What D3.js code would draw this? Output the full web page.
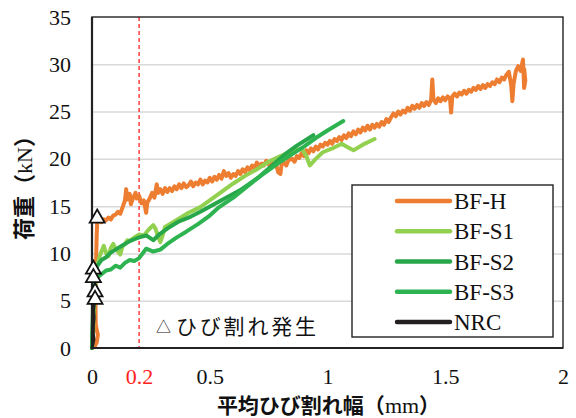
<!DOCTYPE html>
<html><head><meta charset="utf-8">
<script src="https://cdn.jsdelivr.net/npm/d3@7"></script>
<style>
html,body{margin:0;padding:0;background:#fff;}
svg{display:block;}
</style></head>
<body>
<svg id="c" width="576" height="418"></svg>
<script>
// ---- data (x: 平均ひび割れ幅 mm, y: 荷重 kN) ----
const seriesNames = ["BF-H","BF-S1","BF-S2","BF-S3","NRC"];
const seriesColors = ["#ED7D31","#92D050","#27A74A","#2DB350","#231F20"];
const xTicks = [0, 0.5, 1, 1.5, 2];
const xTickLabels = ["0","0.5","1","1.5","2"];
const yTicks = [0,5,10,15,20,25,30,35];
const markX = 0.2;
const crackPoints = [[0.022,13.9],[0.006,8.5],[0.006,7.6],[0.013,6.1],[0.013,5.3]];

const bfH = [[0,0],[0.012,0.2],[0.02,0.6],[0.025,1.4],[0.02,1.9],[0.016,2.5],[0.015,4],[0.016,6],[0.017,8],[0.018,10],[0.02,12],[0.022,13.2],[0.03,13.6],[0.04,13.3],[0.05,13.6],[0.06,13.5],[0.07,13.8],[0.08,13.6],[0.09,14.0],[0.1,14.1],[0.11,14.4],[0.12,14.2],[0.13,14.9],[0.14,15.6],[0.145,16.8],[0.15,15.7],[0.16,16.3],[0.165,15.2],[0.175,15.9],[0.185,16.4],[0.19,15.8],[0.2,16.1],[0.21,15.3],[0.22,15.6],[0.23,14.3],[0.235,15.4],[0.245,15.8],[0.255,16.4],[0.265,15.9],[0.275,17.3],[0.28,16.4],[0.29,16.8],[0.3,16.3],[0.31,16.9],[0.32,16.5],[0.33,16.9],[0.34,16.6],[0.35,17.1],[0.36,16.8],[0.37,17.3],[0.38,16.9],[0.39,17.4],[0.4,17.0],[0.41,17.2],[0.42,17.6],[0.43,17.1],[0.44,17.5],[0.45,17.3],[0.46,17.8],[0.47,17.3],[0.48,17.7],[0.49,17.5],[0.5,18.0],[0.51,17.6],[0.52,18.1],[0.53,17.8],[0.54,18.3],[0.55,17.9],[0.56,18.7],[0.57,18.2],[0.58,18.5],[0.59,18.0],[0.6,18.4],[0.61,18.2],[0.62,18.7],[0.63,18.4],[0.64,18.9],[0.65,18.6],[0.66,19.1],[0.67,18.8],[0.68,19.3],[0.69,19.0],[0.7,19.6],[0.71,19.2],[0.72,19.5],[0.73,19.3],[0.74,19.8],[0.75,19.4],[0.76,19.8],[0.77,19.3],[0.78,19.6],[0.79,18.6],[0.8,18.4],[0.805,19.4],[0.815,19.6],[0.825,19.3],[0.835,19.9],[0.85,20.0],[0.86,19.7],[0.87,20.3],[0.88,20.1],[0.89,20.6],[0.9,20.3],[0.91,20.9],[0.92,20.6],[0.93,21.1],[0.94,20.8],[0.95,21.3],[0.96,21.0],[0.97,21.5],[0.98,21.3],[0.99,21.7],[1.0,21.5],[1.01,21.9],[1.02,21.6],[1.03,22.1],[1.04,21.9],[1.05,22.3],[1.06,22.0],[1.07,22.5],[1.08,22.2],[1.09,22.7],[1.1,22.4],[1.11,22.9],[1.12,22.6],[1.13,23.1],[1.14,22.8],[1.15,23.3],[1.16,23.0],[1.17,23.5],[1.18,23.1],[1.19,23.6],[1.2,23.3],[1.21,23.7],[1.22,23.4],[1.23,23.9],[1.24,23.6],[1.25,24.2],[1.26,23.9],[1.27,24.4],[1.28,24.8],[1.29,24.5],[1.3,25.0],[1.31,24.7],[1.32,25.1],[1.33,24.9],[1.34,25.4],[1.35,25.1],[1.36,25.6],[1.37,25.3],[1.38,25.7],[1.39,25.4],[1.4,25.9],[1.41,25.6],[1.42,26.0],[1.43,25.7],[1.44,26.2],[1.445,28.4],[1.45,26.3],[1.46,25.9],[1.47,26.4],[1.48,26.1],[1.49,26.5],[1.5,26.2],[1.51,26.6],[1.52,26.4],[1.525,24.9],[1.53,26.6],[1.54,26.9],[1.55,26.6],[1.56,27.0],[1.57,26.8],[1.58,27.2],[1.59,26.9],[1.6,27.3],[1.61,27.1],[1.62,27.5],[1.63,27.3],[1.64,27.7],[1.65,27.4],[1.66,27.8],[1.67,27.5],[1.68,27.9],[1.69,27.7],[1.7,28.1],[1.71,27.9],[1.72,28.4],[1.73,28.1],[1.74,28.6],[1.75,28.4],[1.76,28.9],[1.77,29.2],[1.775,28.5],[1.78,27.8],[1.785,26.1],[1.79,27.9],[1.8,29.3],[1.81,29.8],[1.82,29.3],[1.83,30.5],[1.835,27.5],[1.84,28.3],[1.835,29.5]];

const bfS1 = [[0,0],[0.005,2],[0.01,5],[0.015,7],[0.02,8.5],[0.03,9.5],[0.04,10.2],[0.05,10.8],[0.06,10.0],[0.07,9.7],[0.08,10.6],[0.09,11.0],[0.1,10.5],[0.11,10.2],[0.12,9.9],[0.13,10.8],[0.14,11.0],[0.15,11.4],[0.16,11.3],[0.18,11.7],[0.2,12.0],[0.22,11.9],[0.24,12.5],[0.26,13.0],[0.27,12.6],[0.28,11.8],[0.29,11.2],[0.3,11.9],[0.31,12.8],[0.33,13.1],[0.37,13.7],[0.41,14.3],[0.46,14.9],[0.5,15.6],[0.55,16.5],[0.6,17.4],[0.65,18.2],[0.7,18.9],[0.75,19.7],[0.8,20.3],[0.85,20.8],[0.89,21.1],[0.91,20.3],[0.925,19.3],[0.95,20.0],[0.98,20.7],[1.02,21.1],[1.06,21.6],[1.08,21.3],[1.11,20.9],[1.15,21.5],[1.2,22.1]];

const bfS2 = [[0,0],[0.003,3],[0.005,6],[0.008,7.5],[0.02,8.6],[0.04,9.3],[0.06,9.6],[0.08,10.1],[0.1,10.4],[0.12,10.7],[0.14,11.0],[0.16,11.3],[0.18,11.5],[0.2,11.7],[0.23,11.9],[0.26,11.4],[0.29,12.1],[0.33,12.8],[0.37,13.4],[0.42,13.9],[0.46,14.4],[0.54,15.5],[0.63,16.7],[0.71,18.1],[0.77,19.4],[0.82,20.5],[0.87,21.4],[0.94,22.5]];

const bfS3 = [[0,0],[0.004,3],[0.006,5.5],[0.01,7],[0.02,7.4],[0.04,7.8],[0.06,8.2],[0.08,8.3],[0.1,8.7],[0.12,8.5],[0.14,9.0],[0.16,9.3],[0.18,9.2],[0.2,9.5],[0.23,10.5],[0.26,10.2],[0.29,10.4],[0.32,11.0],[0.36,11.7],[0.4,12.3],[0.45,13.1],[0.5,14.0],[0.54,14.9],[0.6,15.9],[0.65,16.9],[0.71,18.1],[0.75,18.8],[0.8,19.7],[0.85,20.5],[0.9,21.3],[0.95,22.2],[1.0,23.0],[1.067,24.0]];

const nrc = [[0,0],[0.004,0.4],[0.008,0.9],[0.005,1.6],[0.006,2.4],[0.009,3.2],[0.007,4.0],[0.01,4.8],[0.012,5.6]];

const seriesData = [bfH, bfS1, bfS2, bfS3, nrc];
const seriesWidths = [4, 4, 4, 4, 3];

// ---- drawing ----
const svg = d3.select("#c");
const L = 92, R = 563, T = 17, B = 348;
const x = d3.scaleLinear().domain([0,2]).range([L,R]);
const y = d3.scaleLinear().domain([0,35]).range([B,T]);
const serif = "'Liberation Serif','Times New Roman',serif";
const jp = "'Noto Sans CJK JP','Noto Sans',sans-serif";

// gridlines
svg.append("g").attr("transform",`translate(${L},0)`)
  .call(d3.axisLeft(y).tickValues(yTicks.slice(1,-1)).tickSize(-(R-L)).tickFormat(""))
  .call(g=>g.select(".domain").remove())
  .call(g=>g.selectAll("line").attr("stroke","#D9D9D9").attr("stroke-width",1.5));

// red dashed line at 0.2
svg.append("line").attr("x1",x(markX)).attr("x2",x(markX)).attr("y1",T).attr("y2",B)
  .attr("stroke","#FF2020").attr("stroke-width",1.3).attr("stroke-dasharray","4,3");

// series
const line = d3.line().x(d=>x(d[0])).y(d=>y(d[1]));
seriesData.forEach((s,i)=>{
  svg.append("path").datum(s).attr("d",line).attr("fill","none")
    .attr("stroke",seriesColors[i]).attr("stroke-width",seriesWidths[i])
    .attr("stroke-linejoin","round").attr("stroke-linecap","round");
});

// frame
svg.append("rect").attr("x",L).attr("y",T).attr("width",R-L).attr("height",B-T)
  .attr("fill","none").attr("stroke","#222").attr("stroke-width",1.4);
svg.append("line").attr("x1",L).attr("x2",L).attr("y1",T).attr("y2",B+1).attr("stroke","#222").attr("stroke-width",2.2);
svg.append("line").attr("x1",L-1).attr("x2",R).attr("y1",B).attr("y2",B).attr("stroke","#222").attr("stroke-width",2.2);

// crack markers
const tri = "M0,-7 L7.5,6 L-7.5,6 Z";
svg.append("g").selectAll("path").data(crackPoints).join("path")
  .attr("d",tri).attr("transform",d=>`translate(${x(d[0])},${y(d[1])})`)
  .attr("fill","#fff").attr("stroke","#111").attr("stroke-width",1.8).attr("stroke-linejoin","miter");

// y axis labels
svg.append("g").attr("transform",`translate(${L},0)`)
  .call(d3.axisLeft(y).tickValues(yTicks).tickSize(0).tickPadding(21))
  .call(g=>g.select(".domain").remove())
  .call(g=>g.selectAll("text").attr("font-family",serif).attr("font-size",22).attr("fill","#111"));

// x axis labels
svg.append("g").attr("transform",`translate(0,${B})`)
  .call(d3.axisBottom(x).tickValues(xTicks).tickSize(0).tickPadding(20).tickFormat((d,i)=>xTickLabels[i]))
  .call(g=>g.select(".domain").remove())
  .call(g=>g.selectAll("text").attr("font-family",serif).attr("font-size",22).attr("fill","#111"));
svg.append("g").attr("transform",`translate(0,${B})`)
  .call(d3.axisBottom(x).tickValues([markX]).tickSize(0).tickPadding(20).tickFormat(d=>String(d)))
  .call(g=>g.select(".domain").remove())
  .call(g=>g.selectAll("text").attr("font-family",serif).attr("font-size",22).attr("fill","#FF2020"));

// axis titles
const xt = svg.append("text").attr("x",(L+R)/2+1).attr("y",413).attr("text-anchor","middle")
  .attr("font-family",jp).attr("font-size",21).attr("font-weight","bold").attr("fill","#111");
xt.append("tspan").text("平均ひび割れ幅（");
xt.append("tspan").attr("font-family",serif).attr("font-weight","normal").attr("font-size",22).text("mm");
xt.append("tspan").text("）");

const yt = svg.append("text").attr("transform",`translate(32,${(T+B)/2}) rotate(-90)`).attr("text-anchor","middle")
  .attr("font-family",jp).attr("font-size",22).attr("font-weight","bold").attr("fill","#111");
yt.append("tspan").text("荷重（");
yt.append("tspan").attr("font-family",serif).attr("font-weight","normal").text("kN");
yt.append("tspan").text("）");

// annotation
svg.append("text").attr("x",156).attr("y",332).attr("font-family",jp).attr("font-size",15).attr("fill","#111").text("△");
svg.append("text").attr("x",176).attr("y",334).attr("font-family",jp).attr("font-size",21)
  .attr("textLength",140).attr("lengthAdjust","spacing").attr("fill","#111").text("ひび割れ発生");

// legend
const lg = svg.append("g");
lg.append("rect").attr("x",352).attr("y",185).attr("width",201).attr("height",152)
  .attr("fill","#fff").attr("stroke","#222").attr("stroke-width",1.4);
const rowY = d3.scalePoint().domain(seriesNames).range([201,322]);
seriesNames.forEach((n,i)=>{
  lg.append("line").attr("x1",397).attr("x2",450).attr("y1",rowY(n)).attr("y2",rowY(n))
    .attr("stroke",seriesColors[i]).attr("stroke-width",4.5).attr("stroke-linecap","round");
  lg.append("text").attr("x",454).attr("y",rowY(n)+8).attr("font-family",serif).attr("font-size",23)
    .attr("fill","#111").text(n);
});
</script>
</body></html>
